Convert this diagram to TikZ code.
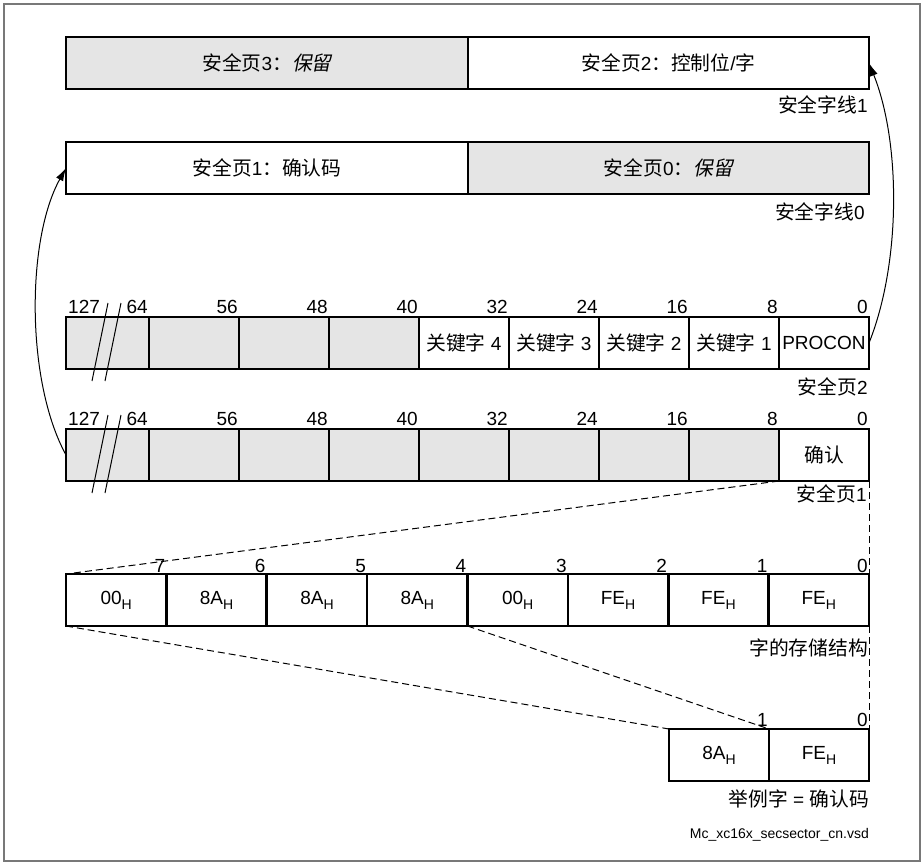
\documentclass[tikz,border=0pt]{standalone}
\usepackage{fontspec}
\setmainfont{Liberation Sans}
\newfontfamily\cjk{Noto Sans CJK SC}[Scale=1.04]
\newfontfamily\cjkit{Noto Sans CJK SC}[Scale=1.04, FakeSlant=0.2]
\usepackage{xcolor}
\definecolor{cellgray}{RGB}{229,229,229}
\definecolor{framegray}{RGB}{120,120,120}
\usetikzlibrary{arrows.meta, positioning, calc}
\newcommand{\zh}[1]{{\cjk #1}}
\newcommand{\zhit}[1]{{\cjkit #1}}
\newcommand{\hexval}[1]{#1\raisebox{-5pt}{\fontsize{14}{14}\selectfont H}}

\begin{document}
\begin{tikzpicture}[x=1pt, y=-1pt, >={Latex[length=13pt,width=8pt]},
    every node/.style={font=\fontsize{19}{22}\selectfont},
    cell/.style={draw, line width=2.6pt, minimum height=52pt, inner sep=0pt, outer sep=0pt},
    wide/.style={cell, minimum width=401pt},
    bitcell/.style={cell, minimum width=90pt},
    bytecell/.style={cell, minimum width=100.375pt},
    shaded/.style={fill=cellgray},
    bitnum/.style={anchor=base east, inner sep=0pt},
    caption/.style={anchor=east, inner sep=0pt},
    zoomline/.style={line width=1pt, dash pattern=on 7pt off 4pt},
    breakmark/.style={line width=1pt}]
    \useasboundingbox (0,0) rectangle (922,863);
    \draw[framegray, line width=1.3pt] (4,4) rectangle (920,861);

    \node[wide, shaded, minimum width=402pt, anchor=north west] (sw1l) at (66,37) {\zh{安全页}3\zh{：}\zhit{保留}};
    \node[wide, right=0pt of sw1l] (sw1r) {\zh{安全页}2\zh{：控制位}/\zh{字}};
    \node[caption] (sw1cap) at (868,105) {\zh{安全字线}1};

    \node[wide, minimum width=402pt, anchor=north west] (sw0l) at (66,142) {\zh{安全页}1\zh{：确认码}};
    \node[wide, shaded, right=0pt of sw0l] (sw0r) {\zh{安全页}0\zh{：}\zhit{保留}};
    \node[caption] (sw0cap) at (865,212) {\zh{安全字线}0};

    \node[cell, shaded, minimum width=83pt, anchor=north west] (pgb0) at (66,317) {};
    \foreach \i/\fillc/\txt [count=\j from 0] in {1/cellgray/{}, 2/cellgray/{}, 3/cellgray/{},
        4/white/{\zh{关键字} 4}, 5/white/{\zh{关键字} 3}, 6/white/{\zh{关键字} 2},
        7/white/{\zh{关键字} 1}, 8/white/PROCON}
        \node[bitcell, fill=\fillc, right=0pt of pgb\j] (pgb\i) {\txt};
    \node[anchor=base west, inner sep=0pt] (pgbtop) at ($(pgb0.north west)+(2,-4)$) {127};
    \foreach \i/\n in {0/64, 1/56, 2/48, 3/40, 4/32, 5/24, 6/16, 7/8, 8/0}
        \node[bitnum] (pgbn\i) at ($(pgb\i.north east)+(-1,-4)$) {\n};
    \node[caption] (pgbcap) at (868,387) {\zh{安全页}2};

    \node[cell, shaded, minimum width=83pt, anchor=north west] (pga0) at (66,429) {};
    \foreach \i/\fillc/\txt [count=\j from 0] in {1/cellgray/{}, 2/cellgray/{}, 3/cellgray/{},
        4/cellgray/{}, 5/cellgray/{}, 6/cellgray/{}, 7/cellgray/{}, 8/white/{\zh{确认}}}
        \node[bitcell, fill=\fillc, right=0pt of pga\j] (pga\i) {\txt};
    \node[anchor=base west, inner sep=0pt] (pgatop) at ($(pga0.north west)+(2,-4)$) {127};
    \foreach \i/\n in {0/64, 1/56, 2/48, 3/40, 4/32, 5/24, 6/16, 7/8, 8/0}
        \node[bitnum] (pgan\i) at ($(pga\i.north east)+(-1,-4)$) {\n};
    \node[caption] (pgacap) at (867,494) {\zh{安全页}1};

    \foreach \r in {pgb0, pga0} {
        \draw[breakmark] ($(\r.south west)+(26,12)$) -- ($(\r.north west)+(42,-14)$);
        \draw[breakmark] ($(\r.south west)+(39,12)$) -- ($(\r.north west)+(55,-14)$);
    }

    \node[bytecell, anchor=north west] (wd0) at (66,574) {\hexval{00}};
    \foreach \i/\v [count=\j from 0] in {1/8A, 2/8A, 3/8A, 4/00, 5/FE, 6/FE, 7/FE}
        \node[bytecell, right=0pt of wd\j] (wd\i) {\hexval{\v}};
    \foreach \i/\n in {0/7, 1/6, 2/5, 3/4, 4/3, 5/2, 6/1, 7/0}
        \node[bitnum] (wdn\i) at ($(wd\i.north east)+(-1,-2)$) {\n};
    \node[caption] (wdcap) at (868,648) {\zh{字的存储结构}};

    \node[bytecell, minimum width=100pt, anchor=north west] (ex1) at (669,729) {\hexval{8A}};
    \node[bytecell, minimum width=100pt, right=0pt of ex1] (ex0) {\hexval{FE}};
    \node[bitnum] (exn1) at ($(ex1.north east)+(-1,-3)$) {1};
    \node[bitnum] (exn0) at ($(ex0.north east)+(-1,-3)$) {0};
    \node[caption] (excap) at (869,799) {\zh{举例字} = \zh{确认码}};
    \node[caption, font=\fontsize{14}{16}\selectfont] (fname) at (869,835) {Mc\_xc16x\_secsector\_cn.vsd};

    \draw[zoomline] (pga8.south west) -- (wd0.north west);
    \draw[zoomline] (pga8.south east) -- (wd7.north east);
    \draw[zoomline] (wd0.south west) -- (ex1.north west);
    \draw[zoomline] (wd3.south east) -- (ex1.north east);
    \draw[zoomline] (wd7.south east) -- (ex0.north east);

    \draw[->, line width=1pt] (pgb8.east) .. controls ($(pgb8.east)+(32,-80)$) and ($(sw1r.east)+(32,80)$) .. (sw1r.east);
    \draw[->, line width=1pt] (pga0.west) .. controls ($(pga0.west)+(-40,-73)$) and ($(sw0l.west)+(-40,72)$) .. (sw0l.west);
\end{tikzpicture}
\end{document}
